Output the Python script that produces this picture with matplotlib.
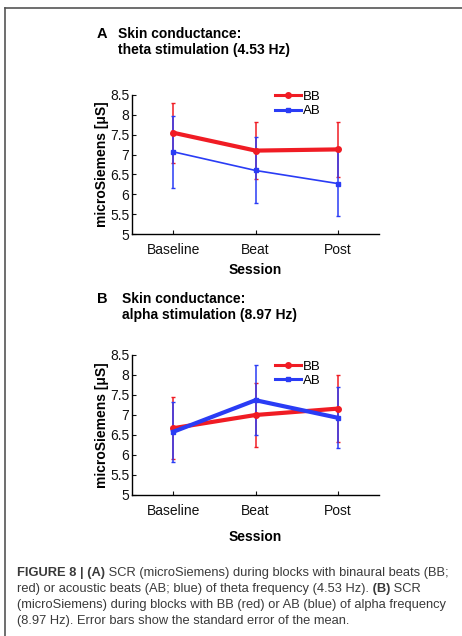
import matplotlib
matplotlib.use('Agg')
import matplotlib.pyplot as plt
from matplotlib.lines import Line2D

plt.rcParams['font.family'] = ['Liberation Sans', 'DejaVu Sans']

W, H = 462, 636

sessions = ['Baseline', 'Beat', 'Post']
yticks = [5, 5.5, 6, 6.5, 7, 7.5, 8, 8.5]
ytick_labels = ['5', '5.5', '6', '6.5', '7', '7.5', '8', '8.5']

# panel A: theta stimulation
theta_bb = [7.55, 7.10, 7.13]
theta_bb_err = [0.75, 0.72, 0.69]
theta_ab = [7.07, 6.60, 6.27]
theta_ab_err = [0.90, 0.83, 0.82]

# panel B: alpha stimulation
alpha_bb = [6.67, 7.00, 7.16]
alpha_bb_err = [0.78, 0.80, 0.84]
alpha_ab = [6.58, 7.37, 6.93]
alpha_ab_err = [0.75, 0.87, 0.76]

RED = '#f01c24'
BLUE = '#2a3cf5'
CAPTION = '#3a3a3a'


def fx(x):
  return x / W


def fy(y):
  return 1.0 - y / H


def draw_panel(ax, bb, bb_err, ab, ab_err, lw_bb, lw_ab, leg_y, session_pad):
  x = [1, 2, 3]
  ax.errorbar(x, bb, yerr=bb_err, color=RED, lw=lw_bb, marker='o', ms=4,
              elinewidth=1.1, capsize=1.5, capthick=1.0, label='BB')
  ax.errorbar(x, ab, yerr=ab_err, color=BLUE, lw=lw_ab, marker='s', ms=3.5,
              elinewidth=1.1, capsize=1.5, capthick=1.0, label='AB')
  ax.set_xlim(0.5, 3.5)
  ax.set_ylim(5, 8.5)
  ax.set_xticks(x)
  ax.set_xticklabels(sessions)
  ax.set_yticks(yticks)
  ax.set_yticklabels(ytick_labels)
  for s in ['top', 'right']:
    ax.spines[s].set_visible(False)
  for s in ['left', 'bottom']:
    ax.spines[s].set_linewidth(1.0)
  ax.tick_params(direction='in', length=3, width=0.8, labelsize=10, colors='#111111')
  ax.tick_params(axis='y', pad=2)
  ax.tick_params(axis='x', pad=6.5)
  ax.set_ylabel('microSiemens [μS]', fontsize=10, fontweight='bold', labelpad=1)
  ax.set_xlabel('Session', fontsize=10, fontweight='bold', labelpad=session_pad)
  handles = [Line2D([], [], color=RED, lw=2.2, marker='o', ms=4),
             Line2D([], [], color=BLUE, lw=2.2, marker='s', ms=3.5)]
  ax.legend(handles, ['BB', 'AB'], loc='upper left', bbox_to_anchor=(0.578, leg_y),
            frameon=False, fontsize=9.5, handlelength=2.0, handletextpad=0.1,
            borderpad=0, borderaxespad=0, labelspacing=0.15)


def draw_runs(fig, renderer, x, y, runs, size, color):
  # place text pieces one after another, advancing by measured widths
  for txt, bold in runs:
    w = 'bold' if bold else 'normal'
    fig.text(fx(x), fy(y), txt, fontsize=size, fontweight=w, color=color,
             ha='left', va='baseline')
    probe = fig.text(0, 0, 'a' + txt + 'a', fontsize=size, fontweight=w)
    ref = fig.text(0, 0, 'aa', fontsize=size, fontweight=w)
    width = probe.get_window_extent(renderer).width - ref.get_window_extent(renderer).width
    probe.remove()
    ref.remove()
    x += width


fig = plt.figure(figsize=(W / 100, H / 100), dpi=100)
renderer = fig.canvas.get_renderer()

axA = fig.add_axes([fx(132), fy(234), fx(379) - fx(132), fy(95) - fy(234)])
draw_panel(axA, theta_bb, theta_bb_err, theta_ab, theta_ab_err, 3.0, 1.2, 1.03, 4)

axB = fig.add_axes([fx(132), fy(495), fx(379) - fx(132), fy(355) - fy(495)])
draw_panel(axB, alpha_bb, alpha_bb_err, alpha_ab, alpha_ab_err, 3.0, 3.0, 0.96, 8.5)

# panel titles
fig.text(fx(97), fy(38), 'A', fontsize=10.5, fontweight='bold', va='baseline')
fig.text(fx(118), fy(38), 'Skin conductance:', fontsize=10, fontweight='bold', va='baseline')
fig.text(fx(118), fy(54), 'theta stimulation (4.53 Hz)', fontsize=10, fontweight='bold', va='baseline')
fig.text(fx(97), fy(303), 'B', fontsize=10.5, fontweight='bold', va='baseline')
fig.text(fx(122), fy(303), 'Skin conductance:', fontsize=10, fontweight='bold', va='baseline')
fig.text(fx(122), fy(319), 'alpha stimulation (8.97 Hz)', fontsize=10, fontweight='bold', va='baseline')

# caption
cap_size = 9.25
draw_runs(fig, renderer, 17, 576,
          [('FIGURE 8 | (A)', True),
           (' SCR (microSiemens) during blocks with binaural beats (BB;', False)],
          cap_size, CAPTION)
draw_runs(fig, renderer, 17, 592,
          [('red) or acoustic beats (AB; blue) of theta frequency (4.53 Hz).', False),
           (' (B)', True), (' SCR', False)],
          cap_size, CAPTION)
draw_runs(fig, renderer, 17, 608,
          [('(microSiemens) during blocks with BB (red) or AB (blue) of alpha frequency', False)],
          cap_size, CAPTION)
draw_runs(fig, renderer, 17, 624,
          [('(8.97 Hz). Error bars show the standard error of the mean.', False)],
          cap_size, CAPTION)

# frame lines (top and left)
fig.add_artist(Line2D([fx(5), 1.0], [fy(7.5), fy(7.5)], color='#555555', lw=1.2))
fig.add_artist(Line2D([fx(5), fx(5)], [fy(7.5), 0.0], color='#555555', lw=1.2))

fig.savefig('out.png', dpi=100)
